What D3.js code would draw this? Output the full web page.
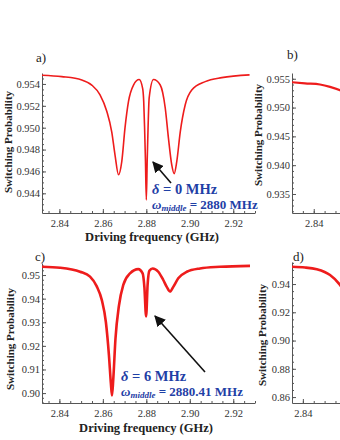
<!DOCTYPE html>
<html>
<head>
<meta charset="utf-8">
<script src="https://d3js.org/d3.v7.min.js"></script>
<style>
  body { margin: 0; background: #fff; }
  svg text { font-family: "Liberation Serif", "DejaVu Serif", serif; }
</style>
</head>
<body>
<script>
// ---- data ----
const freqA = [2.8320, 2.8411, 2.8503, 2.8549, 2.8587, 2.8618, 2.8641, 2.8656, 2.8672, 2.8687, 2.8702, 2.8718, 2.8741, 2.8767, 2.8783, 2.8788, 2.8792, 2.8796, 2.8800, 2.8804, 2.8808, 2.8813, 2.8833, 2.8864, 2.8887, 2.8902, 2.8917, 2.8928, 2.8940, 2.8956, 2.8979, 2.9009, 2.9071, 2.9147, 2.9275];
const probA = [0.9548, 0.95467, 0.95437, 0.9539, 0.9530, 0.9515, 0.9496, 0.9475, 0.9457, 0.9469, 0.9500, 0.9524, 0.9539, 0.9544, 0.9536, 0.9524, 0.9500, 0.9470, 0.9434, 0.9470, 0.9500, 0.9527, 0.9544, 0.9539, 0.9518, 0.9490, 0.9466, 0.9458, 0.9469, 0.9496, 0.9521, 0.95345, 0.95421, 0.95458, 0.95483];

const freqB = [2.8300, 2.8360, 2.8429, 2.8475, 2.8521, 2.8560];
const probB = [0.9544, 0.9542, 0.9540, 0.9536, 0.9530, 0.9522];

const freqC = [2.8320, 2.8403, 2.8495, 2.8541, 2.8572, 2.8595, 2.8614, 2.8628, 2.8637, 2.8642, 2.8648, 2.8658, 2.8674, 2.8694, 2.8725, 2.8763, 2.8783, 2.8791, 2.8799, 2.8806, 2.8814, 2.8829, 2.8855, 2.8878, 2.8894, 2.8909, 2.8924, 2.8947, 2.8986, 2.9047, 2.9139, 2.9277];
const probC = [0.9535, 0.9531, 0.9514, 0.9493, 0.9452, 0.9395, 0.9300, 0.9160, 0.9040, 0.8990, 0.9060, 0.9230, 0.9370, 0.9458, 0.9507, 0.9525, 0.9507, 0.9450, 0.9325, 0.9460, 0.9518, 0.9528, 0.9514, 0.9479, 0.9450, 0.9430, 0.9450, 0.9486, 0.9514, 0.9528, 0.9535, 0.9539];

const freqD = [2.8350, 2.8410, 2.8464, 2.8500, 2.8525, 2.8571, 2.8590];
const probD = [0.9522, 0.9517, 0.9504, 0.9485, 0.9464, 0.9393, 0.9350];

const xTicks = [2.84, 2.86, 2.88, 2.90, 2.92];
const yTicksA = [0.944, 0.946, 0.948, 0.950, 0.952, 0.954];
const yTicksB = [0.935, 0.940, 0.945, 0.950, 0.955];
const yTicksC = [0.90, 0.91, 0.92, 0.93, 0.94, 0.95];
const yTicksD = [0.86, 0.88, 0.90, 0.92, 0.94];

const red = "#ee1c1c", blue = "#1f40a6", axisCol = "#555";
const W = 340;

const svg = d3.select("body").append("svg")
  .attr("width", W).attr("height", 440);

function panel(o) {
  const x = d3.scaleLinear().domain(o.xd).range(o.xr);
  const y = d3.scaleLinear().domain(o.yd).range(o.yr);
  const g = svg.append("g");

  const clipId = "clip-" + o.name;
  svg.append("clipPath").attr("id", clipId).append("rect")
    .attr("x", o.xr[0]).attr("y", o.yr[1])
    .attr("width", o.xr[1] - o.xr[0]).attr("height", o.yr[0] - o.yr[1]);

  // minor ticks
  const xMinor = d3.range(2.80, 2.95, 0.005).filter(v => v >= o.xd[0] && v <= o.xd[1]);
  const yMinor = d3.range(Math.ceil(o.yd[0] / o.ym) * o.ym, o.yd[1], o.ym);
  g.append("g").attr("transform", `translate(0,${o.yr[0]})`)
    .call(d3.axisBottom(x).tickValues(xMinor).tickSize(-2).tickFormat(""))
    .call(s => s.select(".domain").remove())
    .selectAll("line").attr("stroke", axisCol);
  g.append("g").attr("transform", `translate(${o.xr[0]},0)`)
    .call(d3.axisLeft(y).tickValues(yMinor).tickSize(-2).tickFormat(""))
    .call(s => s.select(".domain").remove())
    .selectAll("line").attr("stroke", axisCol);

  // major axes (only ticks whose label fits in the window)
  const xa = g.append("g").attr("transform", `translate(0,${o.yr[0]})`)
    .call(d3.axisBottom(x).tickValues(xTicks.filter(v => v >= o.xd[0] && x(v) < W - 12))
      .tickSize(-4).tickSizeOuter(0).tickPadding(7).tickFormat(d3.format(".2f")));
  const ya = g.append("g").attr("transform", `translate(${o.xr[0]},0)`)
    .call(d3.axisLeft(y).tickValues(o.yt)
      .tickSize(-4).tickSizeOuter(0).tickPadding(2).tickFormat(d3.format(o.yf)));
  [xa, ya].forEach(a => {
    a.select(".domain").attr("stroke", axisCol);
    a.selectAll("line").attr("stroke", axisCol);
    a.selectAll("text").attr("font-size", 10.5).attr("fill", "#333")
      .attr("font-family", "Liberation Serif");
  });

  // curve
  const line = d3.line().x(d => x(d[0])).y(d => y(d[1])).curve(d3.curveMonotoneX);
  g.append("path").datum(d3.zip(o.fx, o.py))
    .attr("clip-path", `url(#${clipId})`)
    .attr("fill", "none").attr("stroke", red).attr("stroke-width", o.lw)
    .attr("d", line);

  // labels
  g.append("text").attr("x", o.lab[0]).attr("y", o.lab[1])
    .attr("font-size", 13).attr("fill", "#222").text(o.name + ")");
  g.append("text")
    .attr("transform", `translate(${o.yt_pos[0]},${o.yt_pos[1]}) rotate(-90)`)
    .attr("text-anchor", "middle").attr("font-size", 11).attr("font-weight", "bold")
    .attr("fill", "#222").text("Switching Probability");
  if (o.xt_pos) {
    g.append("text").attr("x", o.xt_pos[0]).attr("y", o.xt_pos[1])
      .attr("text-anchor", "middle").attr("font-size", 12.5).attr("font-weight", "bold")
      .attr("fill", "#222").text("Driving frequency (GHz)");
  }
  return { x, y, g };
}

panel({ name: "a", xd: [2.832, 2.930], xr: [42, 255], yd: [0.9422, 0.9550], yr: [213, 73],
  ym: 0.0005, yt: yTicksA, yf: ".3f", fx: freqA, py: probA, lw: 1.6,
  lab: [36, 62], yt_pos: [12, 142], xt_pos: [152, 241] });
panel({ name: "b", xd: [2.830, 2.928], xr: [292, 505], yd: [0.9317, 0.9560], yr: [213, 73],
  ym: 0.001, yt: yTicksB, yf: ".3f", fx: freqB, py: probB, lw: 2.2,
  lab: [287, 59], yt_pos: [262, 135] });
panel({ name: "c", xd: [2.832, 2.930], xr: [42, 255], yd: [0.8958, 0.9551], yr: [403, 263],
  ym: 0.002, yt: yTicksC, yf: ".2f", fx: freqC, py: probC, lw: 2.6,
  lab: [35, 261], yt_pos: [14, 339], xt_pos: [146, 432] });
panel({ name: "d", xd: [2.835, 2.933], xr: [292, 505], yd: [0.8558, 0.9556], yr: [403, 262],
  ym: 0.005, yt: yTicksD, yf: ".2f", fx: freqD, py: probD, lw: 2.6,
  lab: [293, 261], yt_pos: [266, 335] });

// annotations
const defs = svg.append("defs");
defs.append("marker").attr("id", "arr").attr("viewBox", "0 0 10 10")
  .attr("refX", 9).attr("refY", 5).attr("markerWidth", 7).attr("markerHeight", 7)
  .attr("orient", "auto")
  .append("path").attr("d", "M0,0 L10,5 L0,10 z").attr("fill", "#111");

function note(ax, ay, hx, hy, tx, ty, delta, omega) {
  svg.append("line").attr("x1", ax).attr("y1", ay).attr("x2", hx).attr("y2", hy)
    .attr("stroke", "#111").attr("stroke-width", 1.6).attr("marker-end", "url(#arr)");
  const t1 = svg.append("text").attr("x", tx).attr("y", ty)
    .attr("font-size", 14.5).attr("font-weight", "bold").attr("fill", blue);
  t1.append("tspan").attr("font-style", "italic").text("δ");
  t1.append("tspan").text(" = " + delta + " MHz");
  const t2 = svg.append("text").attr("x", tx).attr("y", ty + 15)
    .attr("font-size", 13).attr("font-weight", "bold").attr("fill", blue);
  t2.append("tspan").attr("font-style", "italic").text("ω");
  t2.append("tspan").attr("font-style", "italic").attr("font-size", 9).attr("dy", 2).text("middle");
  t2.append("tspan").attr("dy", -2).text(" = " + omega + " MHz");
}

note(171, 183, 153, 162, 152, 194, "0", "2880");
note(205, 372, 155, 316, 121, 381, "6", "2880.41");
</script>
</body>
</html>
